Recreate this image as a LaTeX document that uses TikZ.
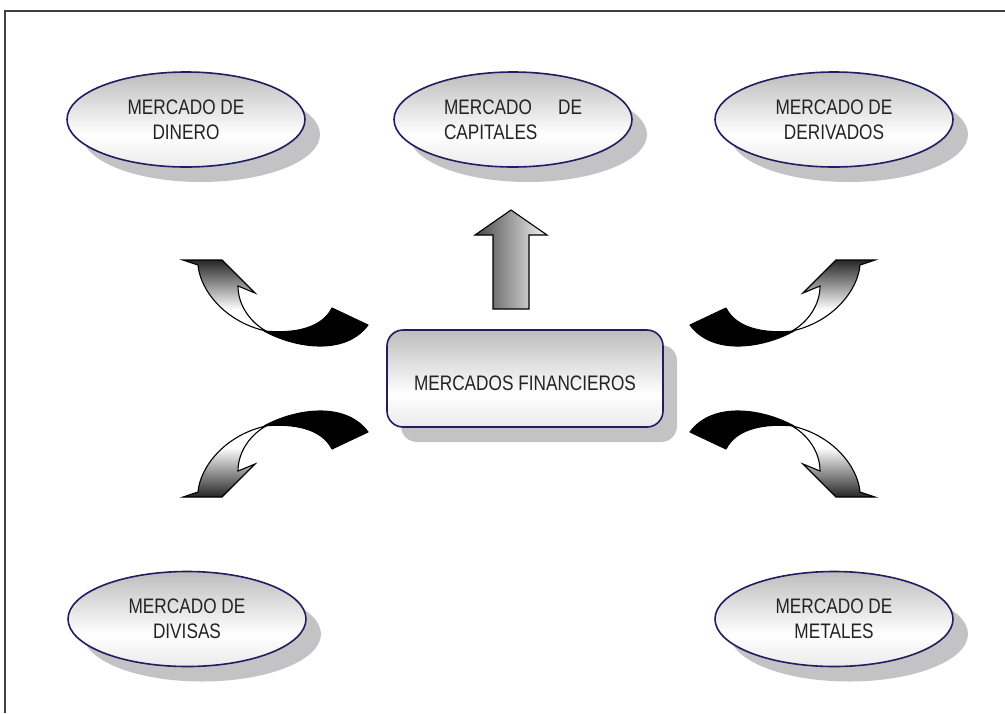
\documentclass[tikz,border=0pt]{standalone}
\usepackage{fontspec}
\setmainfont{Liberation Sans}[FakeStretch=0.82]
\usetikzlibrary{shapes.geometric,shadows}

\definecolor{navy}{RGB}{30,30,96}
\definecolor{shgray}{RGB}{195,195,198}
\definecolor{ink}{RGB}{35,35,35}

% soft top-to-bottom fill for the boxes
\pgfdeclareverticalshading{softfill}{100bp}{color(0bp)=(black!8); color(25bp)=(black!8); color(42bp)=(white); color(75bp)=(black!26); color(100bp)=(black!26)}
% front face of the twisted arrows: dark at the head, white at the twist
\pgfdeclareverticalshading{swooshfill}{100bp}{color(0bp)=(white); color(25bp)=(white); color(40bp)=(white); color(75bp)=(black!85); color(100bp)=(black!85)}

\tikzset{
  labeltext/.style={text=ink, font=\fontsize{21}{25}\selectfont},
  market/.style={ellipse, draw=navy, line width=1.6pt, shade, shading=softfill,
    minimum width=238pt, minimum height=95pt, inner sep=0pt, labeltext, align=center,
    drop shadow={shadow xshift=15pt, shadow yshift=-15pt, fill=shgray, opacity=1}},
  hub/.style={rectangle, rounded corners=16pt, draw=navy, line width=1.6pt, shade, shading=softfill,
    minimum width=276pt, minimum height=97pt, inner sep=0pt, labeltext,
    text height=23pt, text depth=0pt,
    drop shadow={shadow xshift=14pt, shadow yshift=-15pt, fill=shgray, opacity=1}},
  outline/.style={draw=black, line width=1.1pt},
  swoosh/.pic={
    % back face (black) of the ribbon
    \filldraw[outline, fill=black, line join=round]
      (264,331) .. controls (295,348) and (345,356) .. (368,325)
      -- (332,308) .. controls (322,328) and (295,334) .. (264,331) -- cycle;
    % front face with the arrow head
    \shadedraw[outline, shading=swooshfill, line join=miter]
      (266,331) .. controls (225,322) and (200,290) .. (198,265)
      -- (183,260) -- (222,260) -- (255,293) -- (238,286)
      .. controls (238,305) and (250,322) .. (266,331) -- cycle;
  }
}

\begin{document}
\begin{tikzpicture}[x=1pt, y=-1pt]
\useasboundingbox (0,0) rectangle (1005,713);

% page frame (top and left edges)
\draw[line width=2pt, black!75] (1005,10.5) -- (5,10.5) -- (5,713);

% markets
\node[market] (dinero)    at (186,119.5) {MERCADO DE\\DINERO};
\node[market, align=left] (capitales) at (513,119.5) {\hbox to 138pt{MERCADO\hfill DE}\\CAPITALES};
\node[market] (derivados) at (834,119.5) {MERCADO DE\\DERIVADOS};
\node[market] (divisas)   at (187,619) {MERCADO DE\\DIVISAS};
\node[market] (metales)   at (834,619) {MERCADO DE\\METALES};

% central box
\node[hub] (financieros) at (525,378.5) {MERCADOS FINANCIEROS};

% straight arrow up
\shadedraw[outline, left color=black!72, right color=black!4, line join=miter]
  (511,210) -- (547,235) -- (529,235) -- (529,309) -- (493,309) -- (493,235) -- (475,235) -- cycle;

% twisted arrows in the four corners
\pic (ul) at (0,0) {swoosh};
\begin{scope}[transform canvas={xshift=1058pt, xscale=-1}]
  \pic (ur) at (0,0) {swoosh};
\end{scope}
\begin{scope}[transform canvas={yshift=-757pt, yscale=-1}]
  \pic (ll) at (0,0) {swoosh};
\end{scope}
\begin{scope}[transform canvas={xshift=1058pt, yshift=-757pt, xscale=-1, yscale=-1}]
  \pic (lr) at (0,0) {swoosh};
\end{scope}
\end{tikzpicture}
\end{document}
